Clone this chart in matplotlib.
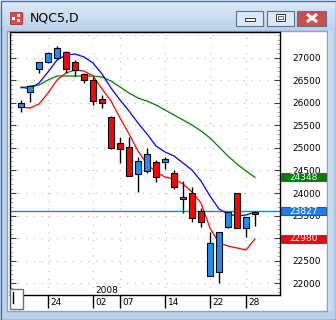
import numpy as np
import matplotlib.pyplot as plt
import matplotlib.transforms as mtrans
from matplotlib.patches import Rectangle
from matplotlib.ticker import MultipleLocator

# daily candles, 19 Dec 2007 .. 29 Jan 2008
dates = ['19', '20', '21', '24', '26', '27', '28', '31', '02', '03', '04', '07', '08', '09',
         '10', '11', '14', '15', '16', '17', '18', '22', '23', '24', '25', '28', '29']
opens = [25910, 26240, 26755, 26910, 27000, 27130, 26910, 26640, 26510, 26085, 25690, 25110, 25020, 24420,
         24490, 24690, 24690, 24445, 23865, 24000, 23600, 22155, 22245, 23245, 24000, 23225, 23580]
highs = [26065, 26375, 26910, 27130, 27265, 27150, 26955, 26665, 26575, 26175, 25710, 25245, 25245, 24800,
         25000, 24735, 24800, 24510, 24265, 24135, 23665, 23135, 23135, 23580, 24000, 23465, 23580]
lows = [25800, 26020, 26665, 26885, 26975, 26665, 26600, 26440, 25955, 25885, 24980, 24665, 24375, 24020,
        24445, 24245, 24535, 24090, 23555, 23355, 23245, 22155, 22000, 23225, 23225, 23025, 23270]
closes = [26000, 26375, 26910, 27110, 27220, 26755, 26730, 26510, 26040, 26000, 25000, 24980, 24375, 24710,
          24865, 24355, 24755, 24135, 23910, 23445, 23355, 22890, 23135, 23580, 23225, 23465, 23535]

ma_blue = [26353, 26309, 26442, 26686, 26953, 27064, 27086, 27019, 26886, 26642, 26331, 26065, 25820, 25554,
           25310, 25043, 24910, 24821, 24666, 24511, 24266, 23933, 23645, 23534, 23489, 23512, 23578]
ma_red = [25909, 25887, 25976, 26220, 26509, 26664, 26731, 26708, 26597, 26309, 26042, 25665, 25310, 24932,
          24644, 24466, 24355, 24311, 24200, 24022, 23778, 23223, 22890, 22823, 22779, 22735, 22980]
ma_green = [26331, 26375, 26398, 26509, 26597, 26597, 26597, 26597, 26597, 26575, 26486, 26353, 26220, 26109,
            26042, 25954, 25843, 25732, 25621, 25510, 25376, 25221, 25021, 24821, 24644, 24488, 24348]

tick_idx = [3, 8, 11, 16, 21, 25]
price_line = 23600
labels = [('24348', 24348, '#008000'), ('23827', price_line, '#1a80f0'), ('22980', 22980, '#ff0000')]

W, H = 336, 320
fig = plt.figure(figsize=(W / 100, H / 100), dpi=100)

# window frame
bg = fig.add_axes([0, 0, 1, 1])
bg.set_xlim(0, W)
bg.set_ylim(H, 0)
bg.axis('off')
top = np.array([0.87, 0.92, 0.97])
mid = np.array([0.73, 0.82, 0.92])
grad = np.zeros((H, 1, 3))
for r in range(H):
    t = min(r / 30, 1)
    grad[r, 0] = top * (1 - t) + mid * t
bg.imshow(grad, extent=(0, W, H, 0), aspect='auto')
bg.add_patch(Rectangle((0.5, 0.5), W - 1, H - 1, fill=False, ec='#4f6f96', lw=1))
bg.add_patch(Rectangle((7, 31), 320, 280, fc='white', ec='#8aa3c0', lw=1))
bg.add_patch(Rectangle((327.5, 31), 5, 280, fc='#c6daf0', ec='none'))

# icon and title
bg.add_patch(Rectangle((10, 12), 12, 12, fc='#e04848', ec='#b02020', lw=0.5))
bg.add_patch(Rectangle((12, 17), 3, 3, fc='white', ec='none'))
bg.add_patch(Rectangle((17, 14), 3, 3, fc='white', ec='none'))
bg.add_patch(Rectangle((17, 19), 3, 3, fc='white', ec='none'))
bg.text(30, 18, 'NQC5,D', fontsize=9, va='center', ha='left', color='black')

# buttons
for x0, x1, fc in [(236, 263, '#dce8f5'), (267, 294, '#dce8f5'), (297, 326, '#c9504a')]:
    bg.add_patch(Rectangle((x0, 11), x1 - x0, 15, fc=fc, ec='#5a7394', lw=0.8))
bg.add_patch(Rectangle((245, 18), 10, 3, fc='white', ec='#333333', lw=0.7))
bg.add_patch(Rectangle((276, 14), 9, 7, fc='white', ec='#333333', lw=0.7))
bg.add_patch(Rectangle((278, 16), 5, 3, fc='#dce8f5', ec='#333333', lw=0.5))
bg.plot([307, 317], [14, 22], color='white', lw=2.2, solid_capstyle='butt')
bg.plot([307, 317], [22, 14], color='white', lw=2.2, solid_capstyle='butt')

# chart
ax = fig.add_axes([9.5 / W, (H - 295) / H, (280 - 9.5) / W, (295 - 32) / H], zorder=2)
x = np.arange(len(dates))
ax.set_xlim(-1.28, 28.78)
ax.set_ylim(21736, 27574)

for p in range(22000, 27501, 500):
    ax.axhline(p, color='#b8b8b8', lw=0.8, ls=(0, (1, 6)), zorder=1)
for i in tick_idx:
    ax.axvline(i, color='#b8b8b8', lw=0.8, ls=(0, (1, 6)), zorder=1)

ax.axhline(price_line, color='#1a80f0', lw=1, zorder=2)
ax.plot(x, ma_green, color='#008000', lw=0.9, zorder=2)
ax.plot(x, ma_blue, color='#0000ff', lw=0.9, zorder=2)
ax.plot(x, ma_red, color='#ff0000', lw=0.9, zorder=2)

for i in range(len(dates)):
    o, h, l, c = opens[i], highs[i], lows[i], closes[i]
    col = '#1e8cff' if c > o else '#ff0000'
    ax.vlines(i, l, h, color='black', lw=1, zorder=3)
    ax.bar(i, max(abs(c - o), 30), bottom=min(o, c), width=0.62, color=col,
           edgecolor='black', lw=0.8, zorder=4)

for s in ax.spines.values():
    s.set_color('black')
    s.set_linewidth(1)

ax.set_yticks(range(22000, 27001, 500))
ax.yaxis.set_minor_locator(MultipleLocator(100))
ax.tick_params(axis='y', which='major', direction='in', length=4, width=0.8, color='#404040',
               left=True, right=True, labelleft=False, labelright=True, labelsize=6.5, pad=9)
ax.tick_params(axis='y', which='minor', direction='in', length=2, width=0.6, color='#a0a0a0',
               left=True, right=True)

ax.set_xticks(tick_idx)
ax.tick_params(axis='x', direction='out', length=9.4, width=1, color='black', labelbottom=False)
tr = mtrans.blended_transform_factory(ax.transData, ax.transAxes)
for i in tick_idx:
    ax.text(i + 0.3, -0.027, dates[i], transform=tr, fontsize=6.5, ha='left', va='center')
ax.text(8.3, 0.016, '2008', transform=tr, fontsize=6.5, ha='left', va='center')

# last value boxes on the price scale
tr2 = mtrans.blended_transform_factory(ax.transAxes, ax.transData)
for txt, p, col in labels:
    ax.add_patch(Rectangle((1.004, p - 89), 0.166, 178, transform=tr2, fc=col, ec='#505050',
                           lw=0.8, clip_on=False, zorder=6))
    ax.text(1.087, p, txt, transform=tr2, fontsize=6.5, color='white', ha='center', va='center',
            zorder=7, clip_on=False)

# scroll box bottom left
ov = fig.add_axes([0, 0, 1, 1], zorder=10)
ov.set_xlim(0, W)
ov.set_ylim(H, 0)
ov.axis('off')
ov.patch.set_alpha(0)
ov.add_patch(Rectangle((10, 289), 13, 20, fc='white', ec='#707070', lw=1))
ov.plot([13, 13], [292, 303], color='black', lw=1)

fig.savefig('out.png', dpi=100)
